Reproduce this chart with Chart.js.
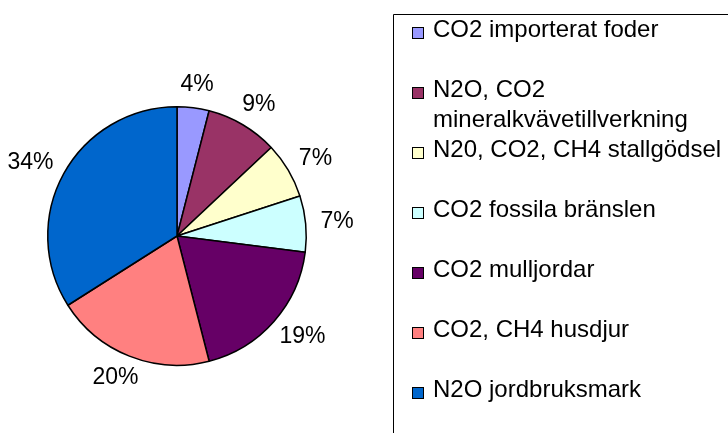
<!DOCTYPE html>
<html>
<head>
<meta charset="utf-8">
<script src="https://cdn.jsdelivr.net/npm/chart.js@4/dist/chart.umd.min.js"></script>
<style>
  html, body { margin: 0; padding: 0; background: #ffffff; }
  #wrap { position: relative; width: 728px; height: 433px; }
</style>
</head>
<body>
<div id="wrap"><canvas id="c" width="728" height="433"></canvas></div>
<script>
// ---- data ----
const categories = [
  "CO2 importerat foder",
  "N2O, CO2 mineralkvävetillverkning",
  "N20, CO2, CH4 stallgödsel",
  "CO2 fossila bränslen",
  "CO2 mulljordar",
  "CO2, CH4 husdjur",
  "N2O jordbruksmark"
];
const values = [4, 9, 7, 7, 19, 20, 34];
const colors = ["#9999FF", "#993366", "#FFFFCC", "#CCFFFF", "#660066", "#FF8080", "#0066CC"];

const FONT = '"Liberation Sans", Arial, sans-serif';

// percentage labels outside the slices
const outsideLabels = {
  id: 'outsideLabels',
  afterDatasetsDraw(chart) {
    const ctx = chart.ctx;
    const meta = chart.getDatasetMeta(0);
    const data = chart.data.datasets[0].data;
    const total = data.reduce((a, b) => a + b, 0);
    ctx.save();
    ctx.font = '23px ' + FONT;
    ctx.fillStyle = '#000';
    ctx.textAlign = 'center';
    ctx.textBaseline = 'middle';
    meta.data.forEach((arc, i) => {
      const p = arc.getProps(['x', 'y', 'startAngle', 'endAngle', 'outerRadius']);
      const mid = (p.startAngle + p.endAngle) / 2;
      const ux = Math.cos(mid), uy = Math.sin(mid);
      const txt = Math.round(data[i] / total * 100) + '%';
      const w = ctx.measureText(txt).width;
      const h = 17;
      const gap = 15;
      const x = p.x + ux * (p.outerRadius + gap) + ux * w / 2;
      const y = p.y + uy * (p.outerRadius + gap) + uy * h / 2;
      ctx.fillText(txt, x, y);
    });
    ctx.restore();
  }
};

// boxed legend on the right
const boxLegend = {
  id: 'boxLegend',
  afterDraw(chart) {
    const ctx = chart.ctx;
    const labels = chart.data.labels;
    const bg = chart.data.datasets[0].backgroundColor;
    ctx.save();
    ctx.strokeStyle = '#000';
    ctx.lineWidth = 1;
    ctx.beginPath();
    ctx.moveTo(393.5, 440);
    ctx.lineTo(393.5, 14.5);
    ctx.lineTo(740, 14.5);
    ctx.stroke();
    ctx.font = '24px ' + FONT;
    ctx.fillStyle = '#000';
    ctx.textBaseline = 'alphabetic';
    ctx.textAlign = 'left';
    const textX = 433, maxW = 300;
    labels.forEach((lab, i) => {
      const base = 37 + 60 * i;
      // word wrap
      const words = lab.split(' ');
      const lines = [];
      let cur = '';
      words.forEach(wd => {
        const test = cur ? cur + ' ' + wd : wd;
        if (ctx.measureText(test).width > maxW && cur) { lines.push(cur); cur = wd; }
        else cur = test;
      });
      if (cur) lines.push(cur);
      // swatch
      ctx.fillStyle = bg[i];
      ctx.fillRect(412, base - 10, 12, 12);
      ctx.strokeStyle = '#000';
      ctx.lineWidth = 1;
      ctx.strokeRect(412.5, base - 9.5, 11, 11);
      ctx.fillStyle = '#000';
      lines.forEach((ln, k) => ctx.fillText(ln, textX, base + 30 * k));
    });
    ctx.restore();
  }
};

new Chart(document.getElementById('c'), {
  type: 'pie',
  data: {
    labels: categories,
    datasets: [{
      data: values,
      backgroundColor: colors,
      borderColor: '#000000',
      borderWidth: 1.5
    }]
  },
  options: {
    responsive: false,
    animation: false,
    devicePixelRatio: 1,
    layout: { padding: { left: 47, right: 421, top: 106, bottom: 67 } },
    plugins: {
      legend: { display: false },
      tooltip: { enabled: false }
    }
  },
  plugins: [outsideLabels, boxLegend]
});
</script>
</body>
</html>
